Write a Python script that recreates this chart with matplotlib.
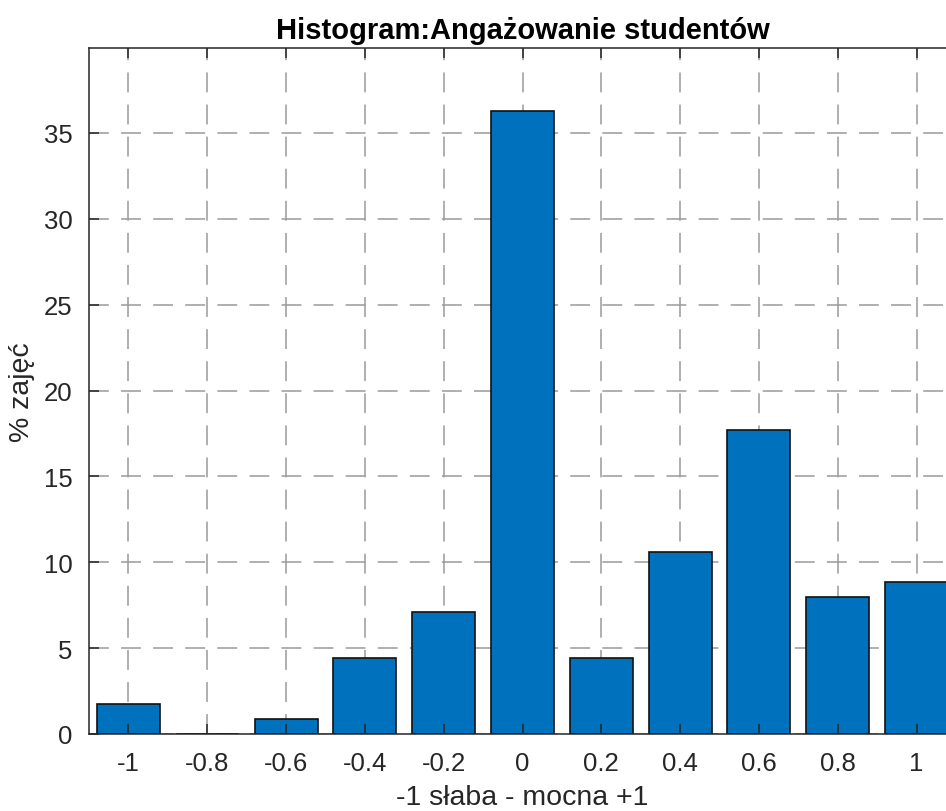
import matplotlib.pyplot as plt

# engagement scale bins and share of classes (%)
bins = [-1, -0.8, -0.6, -0.4, -0.2, 0, 0.2, 0.4, 0.6, 0.8, 1]
percent = [1.77, 0, 0.885, 4.42, 7.08, 36.28, 4.42, 10.62, 17.70, 7.96, 8.85]
xtick_labels = ['-1', '-0.8', '-0.6', '-0.4', '-0.2', '0', '0.2', '0.4', '0.6', '0.8', '1']
yticks = [0, 5, 10, 15, 20, 25, 30, 35]

plt.rcParams['font.family'] = ['Liberation Sans', 'DejaVu Sans']
txt = '#262626'
fs = 18.5

fig = plt.figure(figsize=(9.46, 8.12), dpi=100)
pos = [89/946, 77/812, 867/946, 686/812]
ax = fig.add_axes(pos)
ax.set_axisbelow(True)
ax.bar(bins, percent, width=0.16, color='#0072BD', edgecolor='#111111', linewidth=1.2, zorder=2)
ax.set_xlim(-1.1, 1.1)
ax.set_ylim(0, 39.95)
ax.set_xticks(bins)
ax.set_xticklabels(xtick_labels)
ax.set_yticks(yticks)
ax.grid(True, color='#9a9a9a', linestyle=(0, (13, 8)), linewidth=1.1)
ax.tick_params(length=0, labelsize=fs, labelcolor=txt, pad=12)
for s in ax.spines.values():
    s.set_visible(False)
ax.set_title('Histogram:Angażowanie studentów', fontsize=21, fontweight='bold', color='black', pad=7)
ax.set_xlabel('-1 słaba - mocna +1', fontsize=20.5, color=txt, labelpad=7)
ax.set_ylabel('% zajęć', fontsize=20.5, color=txt, labelpad=6)

# overlay for frame and inward ticks drawn over the bars
ov = fig.add_axes(pos, sharex=ax, sharey=ax)
ov.patch.set_visible(False)
ov.tick_params(direction='in', length=7, width=1.1, color='#262626',
               top=True, right=True, labelbottom=False, labelleft=False)
for s in ov.spines.values():
    s.set_color('#262626')
    s.set_linewidth(1.1)

fig.savefig('out.png', dpi=100)
